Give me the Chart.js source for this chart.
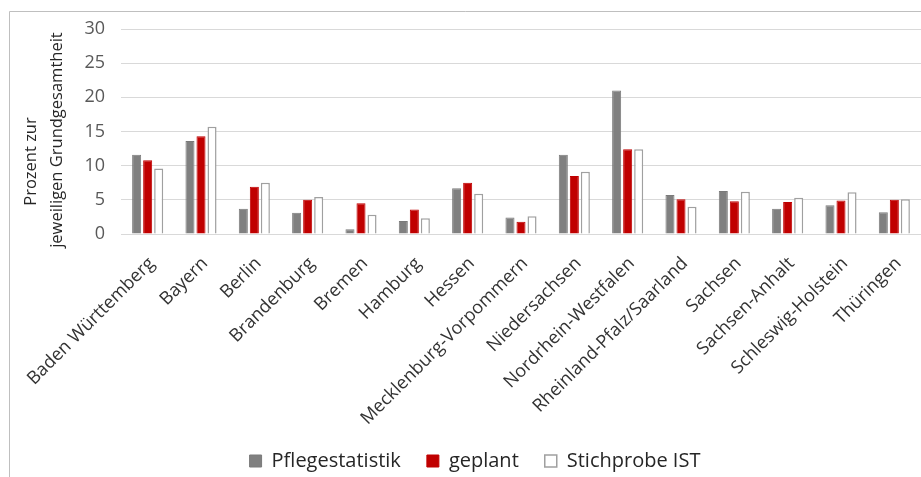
<!DOCTYPE html>
<html>
<head>
<meta charset="utf-8">
<script src="https://cdn.jsdelivr.net/npm/chart.js@4"></script>
<style>
  html, body { margin: 0; padding: 0; background: #fff; overflow: hidden; }
</style>
</head>
<body>
<canvas id="chart" width="921" height="477"></canvas>
<script>
const categories = ['Baden Württemberg', 'Bayern', 'Berlin', 'Brandenburg', 'Bremen', 'Hamburg', 'Hessen',
    'Mecklenburg-Vorpommern', 'Niedersachsen', 'Nordrhein-Westfalen', 'Rheinland-Pfalz/Saarland',
    'Sachsen', 'Sachsen-Anhalt', 'Schleswig-Holstein', 'Thüringen']
const pflegestatistik = [11.6, 13.6, 3.7, 3.1, 0.7, 1.9, 6.7, 2.4, 11.6, 21.0, 5.7, 6.3, 3.7, 4.2, 3.2]
const geplant = [10.8, 14.3, 6.9, 5.0, 4.5, 3.6, 7.5, 1.8, 8.5, 12.4, 5.1, 4.8, 4.7, 4.9, 5.0]
const stichprobeIst = [9.6, 15.7, 7.5, 5.4, 2.8, 2.3, 5.9, 2.6, 9.1, 12.4, 4.0, 6.2, 5.3, 6.1, 5.1]
const yTicks = [0, 5, 10, 15, 20, 25, 30]

const FONT = "'Open Sans', sans-serif"
const PLOT_BOTTOM = 234
const PAD_BOTTOM = -4
const PAD_LEFT = 29   // wider left padding so the legend sits right of centre like the original

// thin frame around the chart (only top and left are visible in the crop)
const framePlugin = {
    id: 'frame',
    beforeDraw(chart) {
        const ctx = chart.ctx
        ctx.save()
        ctx.strokeStyle = '#bfbfbf'
        ctx.lineWidth = 1
        ctx.beginPath()
        ctx.moveTo(9.5, chart.height)
        ctx.lineTo(9.5, 11.5)
        ctx.lineTo(chart.width, 11.5)
        ctx.stroke()
        ctx.restore()
    }
}

new Chart(document.getElementById('chart'), {
    type: 'bar',
    data: {
        labels: categories,
        datasets: [
            {
                label: 'Pflegestatistik',
                data: pflegestatistik,
                backgroundColor: '#808080',
                borderColor: '#7a7a7a',
                borderWidth: 1,
                categoryPercentage: 0.62,
                barPercentage: 0.82
            },
            {
                label: 'geplant',
                data: geplant,
                backgroundColor: '#c00000',
                borderColor: '#c00000',
                borderWidth: 1,
                categoryPercentage: 0.62,
                barPercentage: 0.82
            },
            {
                label: 'Stichprobe IST',
                data: stichprobeIst,
                backgroundColor: '#ffffff',
                borderColor: '#a0a0a0',
                borderWidth: 1.5,
                categoryPercentage: 0.62,
                barPercentage: 0.82
            }
        ]
    },
    plugins: [framePlugin],
    options: {
        responsive: false,
        animation: false,
        layout: {
            padding: { left: PAD_LEFT, right: 0, top: 29, bottom: PAD_BOTTOM }
        },
        plugins: {
            legend: {
                position: 'bottom',
                labels: {
                    font: { family: FONT, size: 20 },
                    color: '#262626',
                    boxWidth: 12,
                    boxHeight: 12,
                    padding: 26
                }
            },
            tooltip: { enabled: false }
        },
        scales: {
            x: {
                grid: { display: false, drawTicks: false },
                border: { color: '#d9d9d9', width: 1 },
                ticks: {
                    font: { family: FONT, size: 18 },
                    color: '#333333',
                    minRotation: 45,
                    maxRotation: 45,
                    autoSkip: false,
                    padding: 19,
                    labelOffset: 4
                },
                afterFit(scale) {
                    const lg = scale.chart.legend
                    scale.height = scale.chart.height - PLOT_BOTTOM - (lg ? lg.height : 0) - PAD_BOTTOM
                    // plot runs right up to the edge of the picture
                    scale.paddingLeft = 0
                    scale.paddingRight = 0
                }
            },
            y: {
                min: 0,
                max: 30,
                afterBuildTicks(scale) {
                    scale.ticks = yTicks.map(v => ({ value: v }))
                },
                grid: { color: '#d9d9d9', lineWidth: 1, drawTicks: false },
                border: { display: false },
                ticks: {
                    font: { family: FONT, size: 18 },
                    color: '#595959',
                    padding: 16
                },
                title: {
                    display: true,
                    // trailing spaces push each line down the way the original places them
                    text: ['Prozent zur              ', 'jeweiligen Grundgesamtheit    '],
                    font: { family: FONT, size: 16.5, lineHeight: 1.58 },
                    color: '#262626',
                    padding: { top: 8 - (PAD_LEFT - 10), bottom: 0 }
                },
                afterFit(scale) {
                    scale.width = 121 - PAD_LEFT
                }
            }
        }
    }
})
</script>
</body>
</html>
